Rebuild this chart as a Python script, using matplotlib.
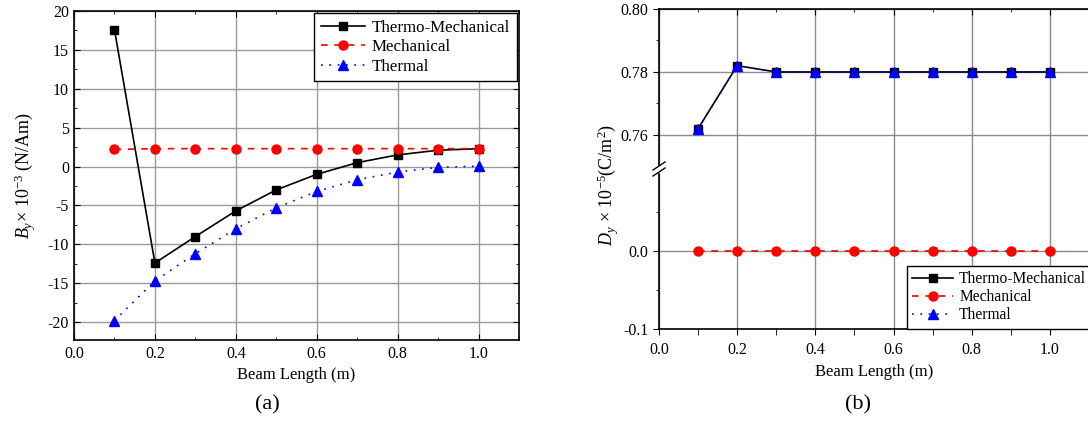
import matplotlib
matplotlib.use("Agg")
import matplotlib.pyplot as plt
from matplotlib.ticker import MultipleLocator, FixedLocator

plt.rcParams["font.family"] = ["Liberation Serif", "DejaVu Serif"]
plt.rcParams["mathtext.fontset"] = "custom"
plt.rcParams["mathtext.rm"] = "Liberation Serif"
plt.rcParams["mathtext.it"] = "Liberation Serif:italic"
plt.rcParams["axes.unicode_minus"] = False

# Beam length positions (m)
beam_length = [0.1, 0.2, 0.3, 0.4, 0.5, 0.6, 0.7, 0.8, 0.9, 1.0]
series_names = ["Thermo-Mechanical", "Mechanical", "Thermal"]

# (a) B_y x 1e-3 (N/Am)
by_thermo_mech = [17.6, -12.4, -9.0, -5.7, -3.0, -1.0, 0.5, 1.5, 2.1, 2.3]
by_mech = [2.2, 2.3, 2.3, 2.3, 2.3, 2.3, 2.3, 2.3, 2.3, 2.3]
by_thermal = [-19.8, -14.7, -11.2, -8.0, -5.3, -3.2, -1.7, -0.7, -0.1, 0.05]

# (b) D_y x 1e-5 (C/m^2)
dy_thermo_mech = [0.762, 0.782, 0.780, 0.780, 0.780, 0.780, 0.780, 0.780, 0.780, 0.780]
dy_mech = [0.0, 0.0, 0.0, 0.0, 0.0, 0.0, 0.0, 0.0, 0.0, 0.0]
dy_thermal = [0.762, 0.782, 0.780, 0.780, 0.780, 0.780, 0.780, 0.780, 0.780, 0.780]

W, H = 1088, 423
fig = plt.figure(figsize=(W / 100, H / 100), dpi=100)


def frac(left, top, right, bottom):
    return [left / W, 1 - bottom / H, (right - left) / W, (bottom - top) / H]


styles = [
    dict(color="black", linestyle="-", linewidth=1.2, marker="s", markersize=5.5),
    dict(color="red", linestyle=(0, (4, 4)), linewidth=1.2, marker="o", markersize=6.5),
    dict(color="blue", linestyle=(0, (1, 4)), linewidth=1.2, marker="^", markersize=7),
]
grid_kw = dict(color="#9a9a9a", linewidth=1.0)
TICK_FS = 11.5

# ---------------- panel (a) ----------------
ax = fig.add_axes(frac(74, 11, 519, 340))
for vals, st, name in zip([by_thermo_mech, by_mech, by_thermal], styles, series_names):
    ax.plot(beam_length, vals, label=name, zorder=3, **st)
ax.set_xlim(0, 1.1)
ax.set_ylim(-22.3, 20)
ax.xaxis.set_major_locator(MultipleLocator(0.2))
ax.xaxis.set_minor_locator(MultipleLocator(0.1))
ax.yaxis.set_major_locator(MultipleLocator(5))
ax.yaxis.set_minor_locator(MultipleLocator(2.5))
ax.xaxis.set_major_formatter(plt.FuncFormatter(lambda v, p: f"{v:.1f}"))
ax.grid(True, which="major", **grid_kw)
ax.set_axisbelow(True)
ax.tick_params(which="both", direction="in", top=True, right=True, labelsize=TICK_FS)
ax.tick_params(which="major", length=4)
ax.tick_params(which="minor", length=2.5)
ax.tick_params(axis="x", pad=4)
for s in ax.spines.values():
    s.set_linewidth(1.2)
ax.set_xlabel("Beam Length (m)", fontsize=12, labelpad=4)
ax.set_ylabel(r"$B_y\!\times\,10^{-3}$ (N/Am)", fontsize=13, labelpad=7)
leg = ax.legend(loc="upper left", bbox_to_anchor=((314 - 74) / 445, 1 - 2 / 329),
                fontsize=12.2, frameon=True, fancybox=False, edgecolor="black",
                framealpha=1, handlelength=2.6, borderpad=0.4, labelspacing=0.2,
                handletextpad=0.4, borderaxespad=0)
leg.get_frame().set_linewidth(1.0)
fig.text(267 / W, 1 - 405 / H, "(a)", fontsize=16, ha="center", va="center")

# ---------------- panel (b), broken y axis ----------------
ax_top = fig.add_axes(frac(659, 9, 1088 + 1, 168))
ax_bot = fig.add_axes(frac(659, 168, 1088 + 1, 329))

for a in (ax_top, ax_bot):
    for vals, st, name in zip([dy_thermo_mech, dy_mech, dy_thermal], styles, series_names):
        a.plot(beam_length, vals, label=name, zorder=3, **st)
    a.set_xlim(0, 1.1)
    a.xaxis.set_major_locator(MultipleLocator(0.2))
    a.xaxis.set_minor_locator(MultipleLocator(0.1))
    a.grid(True, which="major", color="#8c8c8c", linewidth=1.0)
    a.set_axisbelow(True)
    for s in a.spines.values():
        s.set_linewidth(1.2)

ax_top.set_ylim(0.7495, 0.80)
ax_top.yaxis.set_major_locator(FixedLocator([0.76, 0.78, 0.80]))
ax_top.yaxis.set_minor_locator(FixedLocator([0.77, 0.79]))
ax_top.yaxis.set_major_formatter(plt.FuncFormatter(lambda v, p: f"{v:.2f}"))
ax_top.spines["bottom"].set_visible(False)
ax_top.tick_params(axis="x", which="both", bottom=False, labelbottom=False,
                   top=True, direction="in")
ax_top.tick_params(axis="y", which="both", direction="out", right=True, labelsize=TICK_FS)
ax_top.tick_params(which="major", length=4)
ax_top.tick_params(which="minor", length=2.5)

ax_bot.set_ylim(-0.1, 0.1064)
ax_bot.yaxis.set_major_locator(FixedLocator([-0.1, 0.0]))
ax_bot.yaxis.set_minor_locator(FixedLocator([-0.05, 0.05]))
ax_bot.yaxis.set_major_formatter(plt.FuncFormatter(lambda v, p: f"{v:.1f}"))
ax_bot.xaxis.set_major_formatter(plt.FuncFormatter(lambda v, p: f"{v:.1f}"))
ax_bot.spines["top"].set_visible(False)
ax_bot.tick_params(which="both", direction="out", right=True, labelsize=TICK_FS)
ax_bot.tick_params(which="major", length=4)
ax_bot.tick_params(which="minor", length=2.5)
ax_bot.tick_params(axis="x", which="minor", length=4)
ax_bot.tick_params(axis="x", pad=5)
ax_bot.set_xlabel("Beam Length (m)", fontsize=12, labelpad=5)

# break marks on the left spine
bx, by = 659 / W, 1 - 169 / H
fig.add_artist(plt.Rectangle((bx - 1.5 / W, by - 3 / H), 3 / W, 6 / H,
                             color="white", zorder=5))
for dy in (-3.0, 3.0):
    fig.add_artist(plt.Line2D([bx - 6 / W, bx + 6 / W],
                              [by + (dy - 4) / H, by + (dy + 4) / H],
                              color="black", linewidth=1.0, zorder=6))

fig.text(608 / W, 1 - 185 / H, r"$D_y\,\times\,10^{-5}$(C/m$^2$)", fontsize=13,
         rotation=90, ha="center", va="center")

legb = ax_bot.legend(loc="upper left",
                     bbox_to_anchor=((907 - 659) / 430, 1 - (266 - 168) / 161),
                     fontsize=11.2, frameon=True, fancybox=False, edgecolor="black",
                     framealpha=1, handlelength=2.6, borderpad=0.35, labelspacing=0.12,
                     handletextpad=0.4, borderaxespad=0)
legb.get_frame().set_linewidth(1.0)
fig.text(858 / W, 1 - 405 / H, "(b)", fontsize=16, ha="center", va="center")

fig.savefig("out.png", dpi=100)
